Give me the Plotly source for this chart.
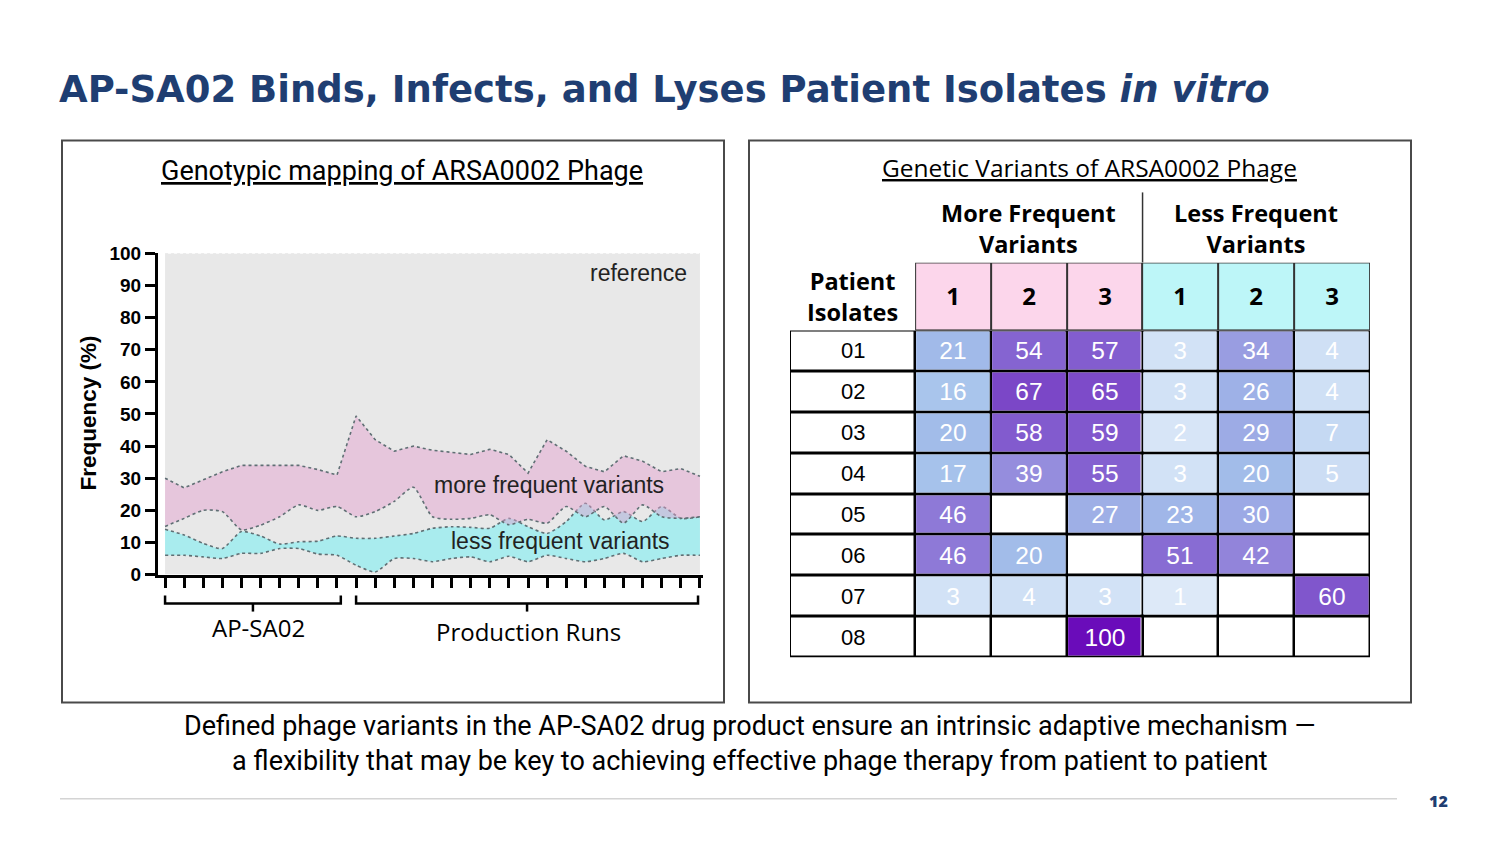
import plotly.graph_objects as go
import numpy as np

W, H = 1500, 853
def px(x): return x / W
def py(y):
    # the capture squeezes the page slightly in height; place items so they land on target rows
    yy = 426.5 + (y - 426.5) / 0.975
    return 1 - yy / H

# ---------------- left chart data ----------------
runs = list(range(29))  # 10 AP-SA02 lots + 19 production runs
reference_total = [100] * 29
cyan_low = [6, 6, 5.5, 5, 6.6, 6.6, 8.1, 8.1, 6.4, 6, 2.9, 0.8, 5, 5, 4, 5, 5.5, 4, 5.7, 4,
            6, 5, 4, 5, 6.6, 4, 5, 6, 6]
cyan_high = [14.1, 12.3, 9.7, 8.1, 13.4, 12, 9.5, 10.2, 10.4, 12, 11.3, 11.3, 12, 12.8, 14.4,
             14.9, 14.7, 14.4, 17.5, 14.9, 12.8, 16.5, 22.2, 17, 19.6, 16.5, 21.2, 17.5, 18]
pink_low = [15, 17.5, 20, 19.6, 13.9, 15.4, 18, 21.7, 20, 21.2, 18, 19.6, 22.8, 27.2, 18,
            17.2, 17.5, 18.6, 15.5, 17.2, 16, 21.2, 18, 21.2, 16, 21.7, 18, 17.5, 18]
pink_high = [30, 27, 29.5, 32, 34, 34, 34, 34, 32.7, 31, 49.4, 42, 38.4, 40, 38.7, 38, 37.4,
             39, 37.4, 31.6, 42, 38.4, 33.7, 32, 37, 35.3, 32, 33, 30.6]
y_ticks = list(range(0, 101, 10))

# ---------------- right table data ----------------
isolates = ["01", "02", "03", "04", "05", "06", "07", "08"]
variant_cols = ["1", "2", "3", "1", "2", "3"]
values = [
    [21, 54, 57, 3, 34, 4],
    [16, 67, 65, 3, 26, 4],
    [20, 58, 59, 2, 29, 7],
    [17, 39, 55, 3, 20, 5],
    [46, None, 27, 23, 30, None],
    [46, 20, None, 51, 42, None],
    [3, 4, 3, 1, None, 60],
    [None, None, 100, None, None, None],
]

NAVY = "#1f3e72"
DOT = "#5f6f74"

fig = go.Figure()

fig.add_trace(go.Scatter(x=runs, y=reference_total, mode="lines", fill="tozeroy",
                         fillcolor="#e8e8e8", line=dict(color="#dadada", width=1, dash="dot"),
                         hoverinfo="skip", showlegend=False))
fig.add_trace(go.Scatter(x=runs, y=cyan_low, mode="lines",
                         line=dict(color=DOT, width=1.6, dash="dot", shape="spline", smoothing=0.6),
                         hoverinfo="skip", showlegend=False))
fig.add_trace(go.Scatter(x=runs, y=cyan_high, mode="lines", fill="tonexty", fillcolor="#a9ecee",
                         line=dict(color=DOT, width=1.6, dash="dot", shape="spline", smoothing=0.6),
                         hoverinfo="skip", showlegend=False))
fig.add_trace(go.Scatter(x=runs, y=pink_low, mode="lines",
                         line=dict(color=DOT, width=1.6, dash="dot", shape="spline", smoothing=0.6),
                         hoverinfo="skip", showlegend=False))
fig.add_trace(go.Scatter(x=runs, y=pink_high, mode="lines", fill="tonexty",
                         fillcolor="rgba(228,160,206,0.47)",
                         line=dict(color=DOT, width=1.6, dash="dot"),
                         hoverinfo="skip", showlegend=False))

# ---------------- table heatmaps ----------------
n_rows = len(isolates)
x_edges = [-2.15, -0.5, 0.5, 1.5, 2.5, 3.5, 4.5, 5.5]
y_edges = [r - 0.5 for r in range(n_rows + 1)]
fig.add_trace(go.Heatmap(x=x_edges, y=y_edges, z=[[0] * 7 for _ in range(n_rows)],
                         colorscale=[[0, "white"], [1, "white"]], showscale=False,
                         xgap=2.5, ygap=3, hoverinfo="skip", xaxis="x2", yaxis="y2"))
head_z = [[0, 0, 0, 1, 1, 1]]
fig.add_trace(go.Heatmap(x=[-0.5, 0.5, 1.5, 2.5, 3.5, 4.5, 5.5], y=[-2.163, -0.5], z=head_z,
                         text=[variant_cols], texttemplate="%{text}",
                         textfont=dict(family="Open Sans", size=24, color="black", weight=700),
                         colorscale=[[0, "#fcd6eb"], [0.5, "#fcd6eb"], [0.5, "#bdf6f8"], [1, "#bdf6f8"]],
                         showscale=False, xgap=2, ygap=2, hoverinfo="skip", xaxis="x2", yaxis="y2"))
z_vals = [[np.nan if v is None else v for v in row] for row in values]
txt = [["" if v is None else str(v) for v in row] for row in values]
fig.add_trace(go.Heatmap(x=list(range(6)), y=list(range(n_rows)), z=z_vals, text=txt,
                         texttemplate="%{text}",
                         textfont=dict(family="Liberation Sans", size=24.5, color="white"),
                         zmin=0, zmax=100,
                         colorscale=[[0, "#e2ecf9"], [0.03, "#d2e2f6"], [0.18, "#a3c0ea"],
                                     [0.3, "#9ca9e5"], [0.42, "#9284da"], [0.55, "#8461d0"],
                                     [0.67, "#7b47c7"], [1.0, "#6a0cba"]],
                         showscale=False, xgap=2.5, ygap=3, hoverinfo="skip",
                         xaxis="x2", yaxis="y2"))

shapes = []
shapes.append(dict(type="rect", xref="paper", yref="paper", x0=px(62), x1=px(724), y0=py(703), y1=py(141),
                   line=dict(color="#4a4a4a", width=2)))
shapes.append(dict(type="rect", xref="paper", yref="paper", x0=px(749), x1=px(1411), y0=py(703), y1=py(141),
                   line=dict(color="#4a4a4a", width=2)))
shapes.append(dict(type="rect", xref="x2", yref="y2", x0=-2.15, x1=5.5, y0=-0.5, y1=n_rows - 0.5,
                   fillcolor="black", line=dict(width=0), layer="below"))
shapes.append(dict(type="rect", xref="x2", yref="y2", x0=-0.5, x1=5.5, y0=-2.163, y1=-0.5,
                   fillcolor="#333", line=dict(width=0), layer="below"))
shapes.append(dict(type="line", xref="x2", yref="paper", x0=2.5, x1=2.5, y0=py(263), y1=py(193),
                   line=dict(color="#333", width=1.5)))
for a, b in [(0, 9.2), (10, 27.9)]:
    shapes.append(dict(type="path", xref="x", yref="paper",
                       path=f"M {a},{py(596)} L {a},{py(604)} L {b},{py(604)} L {b},{py(596)}",
                       line=dict(color="black", width=2.5)))
    shapes.append(dict(type="line", xref="x", yref="paper", x0=(a + b) / 2, x1=(a + b) / 2,
                       y0=py(604), y1=py(612), line=dict(color="black", width=2.5)))
shapes.append(dict(type="line", xref="paper", yref="paper", x0=px(60), x1=px(1397), y0=py(799), y1=py(799),
                   line=dict(color="#d4d4d4", width=1.5)))

def note(x, y, text, font, xref="paper", yref="paper", xanchor="center", angle=0):
    return dict(x=x, y=y, xref=xref, yref=yref, xanchor=xanchor, yanchor="middle", text=text,
                showarrow=False, font=font, textangle=angle)

ann = []
ann.append(note(px(57), py(90), "AP-SA02 Binds, Infects, and Lyses Patient Isolates <i>in vitro</i>",
                dict(family="DejaVu Sans", size=37, color=NAVY, weight=700), xanchor="left"))
ann.append(note(px(402), py(172), "<u>Genotypic mapping of ARSA0002 Phage</u>",
                dict(family="Roboto", size=27, color="black")))
ann.append(note(px(1089), py(168), "<u>Genetic Variants of ARSA0002 Phage</u>",
                dict(family="Open Sans", size=24.5, color="black")))
ann.append(note(px(88), py(414), "Frequency (%)",
                dict(family="Liberation Sans", size=22.5, color="black", weight=700), angle=-90))
ann.append(note(24.8, 94, "reference", dict(family="Liberation Sans", size=23, color="#222"), "x", "y"))
ann.append(note(20.1, 27.8, "more frequent variants", dict(family="Liberation Sans", size=23, color="#222"), "x", "y"))
ann.append(note(20.7, 10.3, "less frequent variants", dict(family="Liberation Sans", size=23, color="#222"), "x", "y"))
ann.append(note(4.9, py(628), "AP-SA02", dict(family="Open Sans", size=24, color="black"), "x"))
ann.append(note(19, py(632), "Production Runs", dict(family="Open Sans", size=24, color="black"), "x"))
hdr_font = dict(family="Open Sans", size=23.5, color="black", weight=700)
ann.append(note(1, py(229), "More Frequent<br>Variants", hdr_font, "x2"))
ann.append(note(4, py(229), "Less Frequent<br>Variants", hdr_font, "x2"))
ann.append(note(-1.325, -1.33, "Patient<br>Isolates", hdr_font, "x2", "y2"))
for i, lab in enumerate(isolates):
    ann.append(note(-1.325, i, lab, dict(family="Liberation Sans", size=22, color="black"), "x2", "y2"))
ann.append(note(0.5, py(744),
                "Defined phage variants in the AP-SA02 drug product ensure an intrinsic adaptive mechanism —<br>"
                "a flexibility that may be key to achieving effective phage therapy from patient to patient",
                dict(family="Roboto", size=27, color="black")))
ann.append(note(px(1438), py(801), "12", dict(family="Open Sans", size=16, color=NAVY, weight=800)))

fig.update_layout(
    width=W, height=H, margin=dict(l=0, r=0, t=0, b=0), autosize=False,
    paper_bgcolor="white", plot_bgcolor="white", showlegend=False,
    xaxis=dict(domain=[px(158), px(703)], range=[-0.37, 28.16], tickmode="array", tickvals=runs,
               ticks="outside", ticklen=10, tickwidth=3, tickcolor="black", showticklabels=False,
               showline=True, linewidth=3, linecolor="black", showgrid=False, zeroline=False,
               anchor="y", fixedrange=True),
    yaxis=dict(domain=[py(575), py(254)], range=[0, 100], tickmode="array", tickvals=y_ticks,
               ticks="outside", ticklen=10, tickwidth=3, tickcolor="black",
               tickfont=dict(family="Liberation Sans", size=19, color="black", weight=700),
               showline=True, linewidth=3, linecolor="black", showgrid=False, zeroline=False,
               anchor="x", fixedrange=True),
    xaxis2=dict(domain=[px(790), px(1370)], range=[-2.15, 5.5], visible=False, anchor="y2", fixedrange=True),
    yaxis2=dict(domain=[py(658), py(263)], range=[n_rows - 0.5, -2.163], visible=False, anchor="x2",
                fixedrange=True),
    shapes=shapes, annotations=ann,
)

fig.write_html("out.html", config={"responsive": False, "displayModeBar": False},
               post_script="document.body.style.margin='0';document.body.style.overflow='hidden';")
